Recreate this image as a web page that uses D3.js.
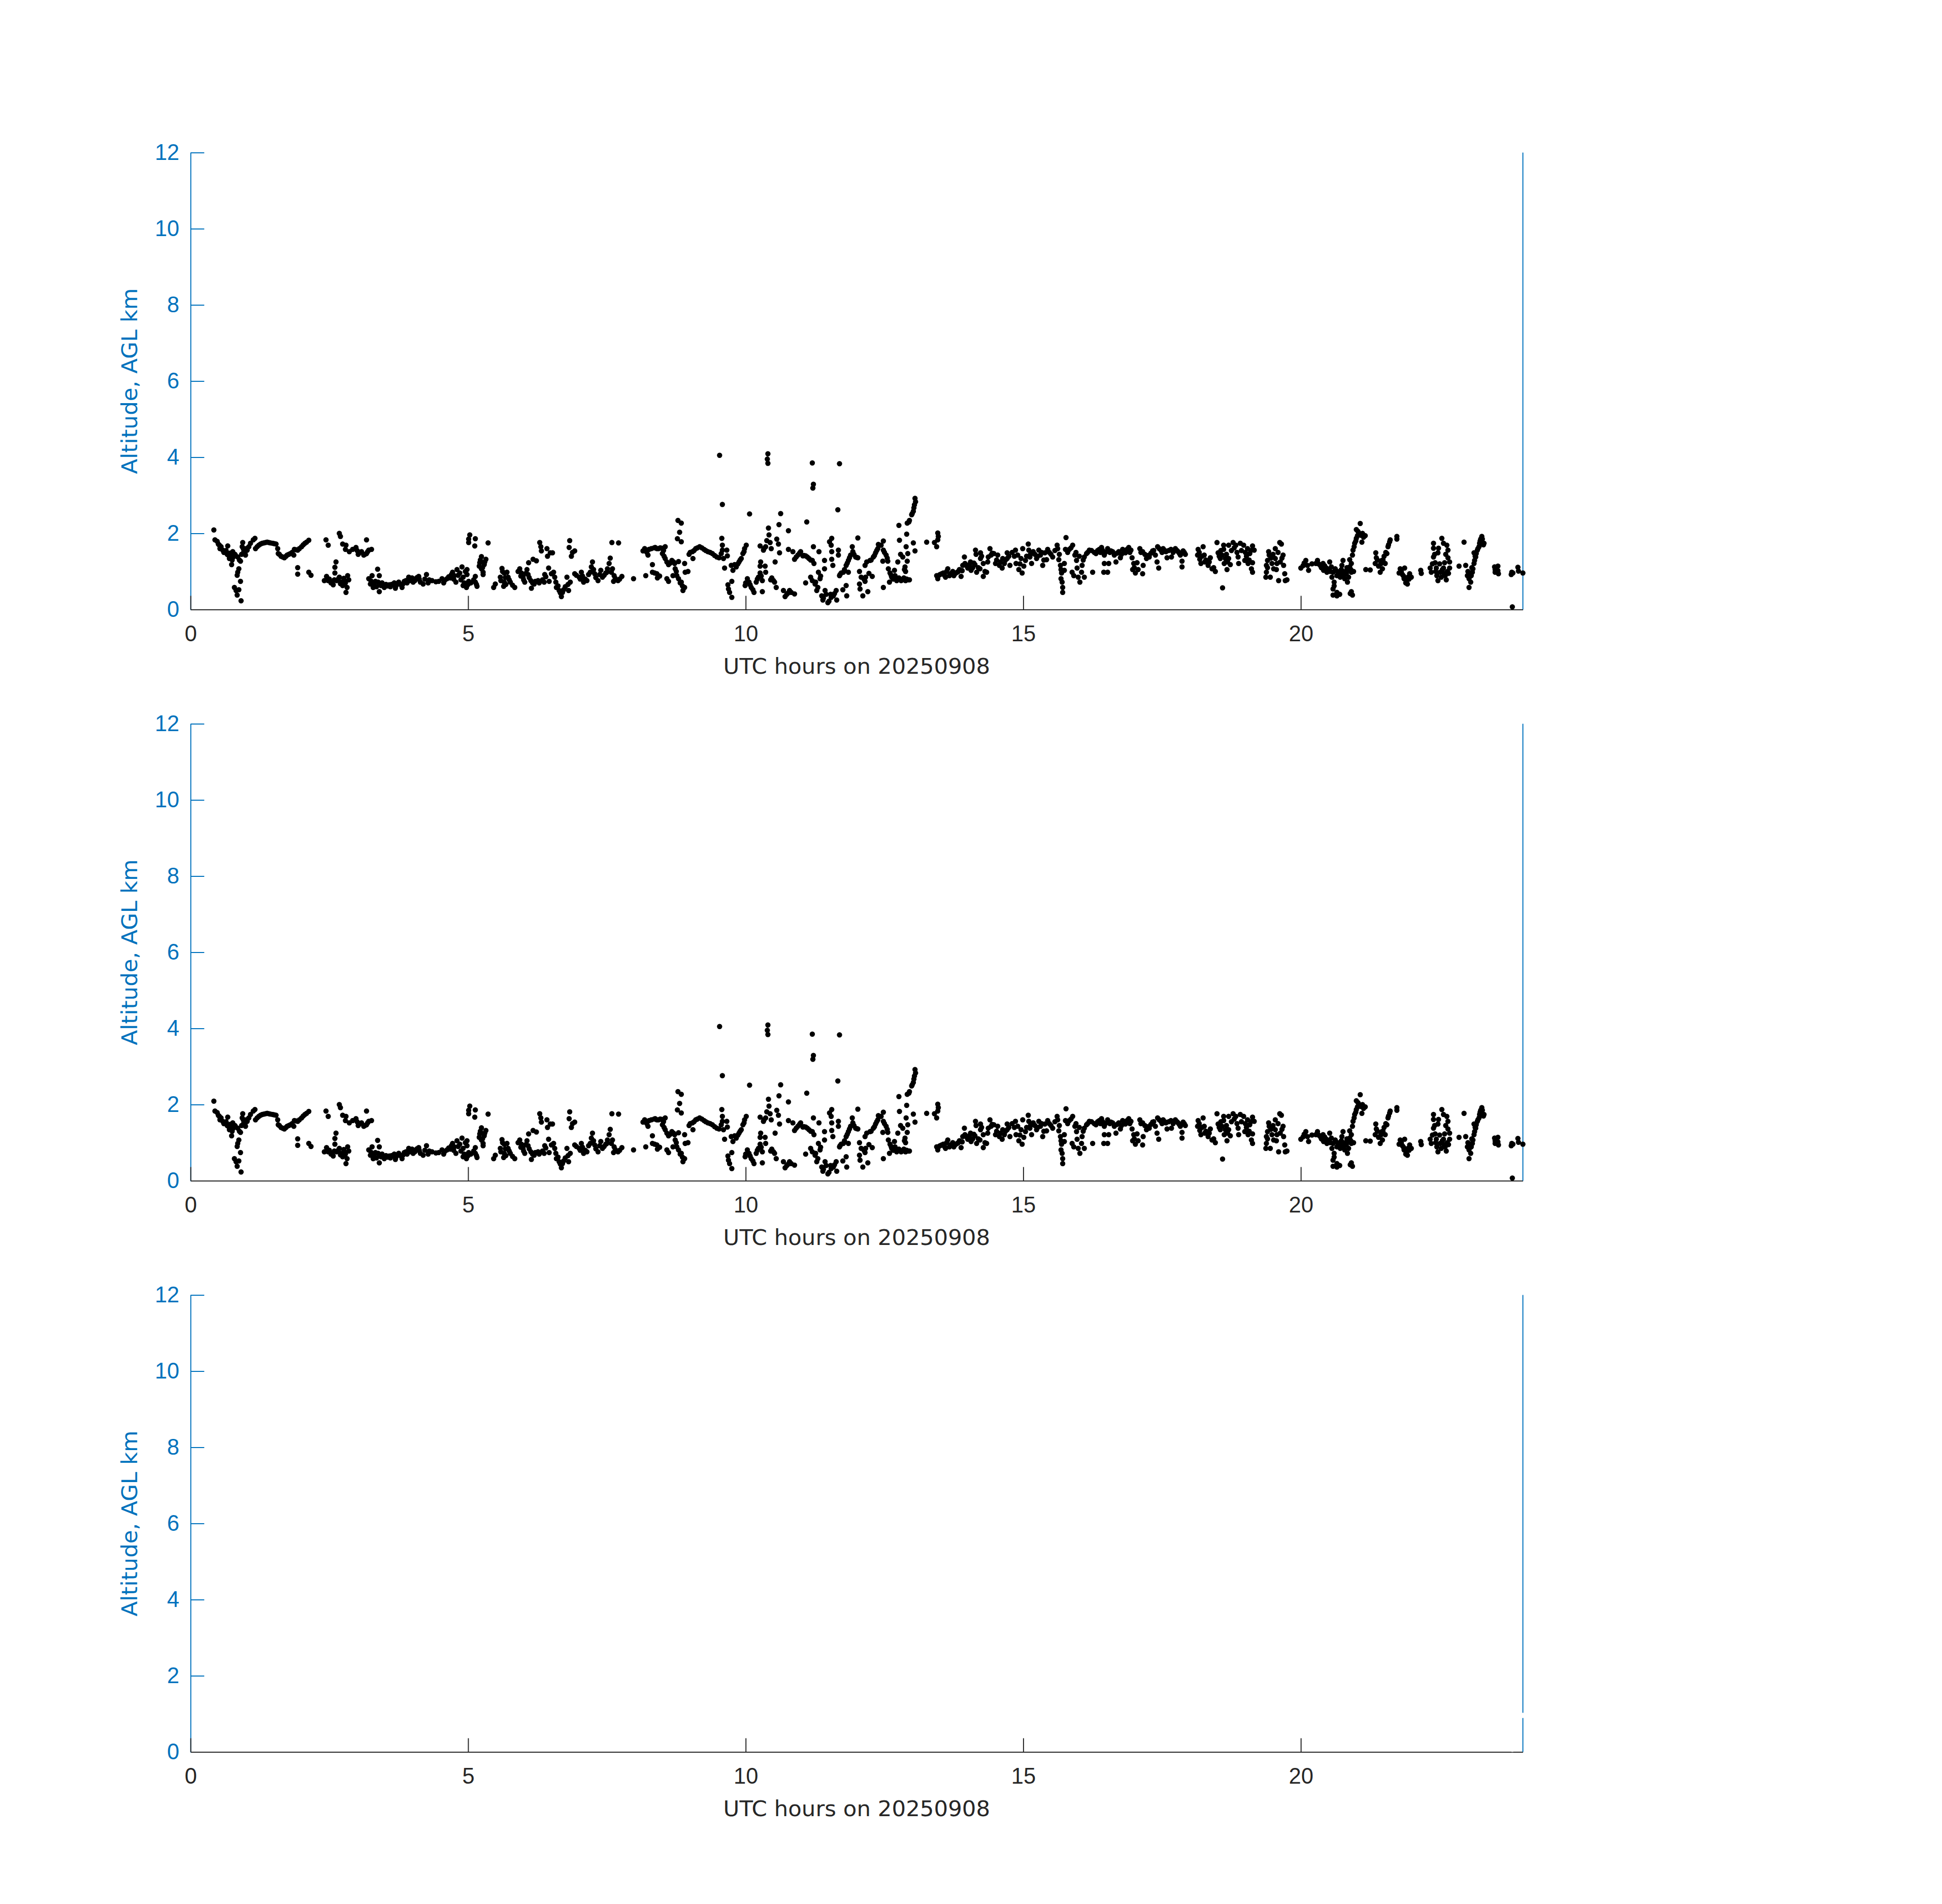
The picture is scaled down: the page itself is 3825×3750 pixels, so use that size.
<!DOCTYPE html>
<html>
<head>
<meta charset="utf-8">
<script src="https://cdn.jsdelivr.net/npm/d3@7"></script>
<style>
  body { margin: 0; background: #fff; }
</style>
</head>
<body>
<div id="chart"></div>
<script>
// axis ticks / labels
const xTickVals = [0, 5, 10, 15, 20];
const yTickVals = [0, 2, 4, 6, 8, 10, 12];
const xLabel = "UTC hours on 20250908";
const yLabel = "Altitude, AGL km";

// cloud base points, [UTC hour, altitude km]
const seg00 = [[0.42,2.09],[0.44,1.83],[0.48,1.79],[0.50,1.72],[0.52,1.69],[0.53,1.60],[0.55,1.65],[0.58,1.56],[0.60,1.50],[0.62,1.52],[0.64,1.55],[0.66,1.45],[0.67,1.67],[0.68,1.43],[0.70,1.34],[0.71,1.48],[0.72,1.40],[0.73,1.47],[0.75,1.30],[0.76,1.52],[0.77,1.38],[0.74,1.18],[0.80,1.45],[0.81,1.42],[0.85,1.38],[0.88,1.30],[0.90,1.27],[0.92,1.45],[0.94,1.76],[0.93,1.65],[0.95,1.60],[0.96,1.52],[0.98,1.48],[0.99,1.43],[1.00,1.60],[1.02,1.56],[1.05,1.65],[1.08,1.74],[1.13,1.83],[1.16,1.87],
  [0.87,1.07],[0.85,0.98],[0.84,0.90],[0.90,0.74],[0.79,0.58],[0.82,0.50],[0.87,0.52],[0.84,0.38],[0.91,0.23],
  [1.17,1.60],[1.20,1.65],[1.23,1.69],[1.26,1.72],[1.29,1.74],[1.32,1.75],[1.35,1.76],[1.38,1.77],[1.41,1.76],[1.44,1.75],[1.48,1.74],[1.51,1.73],[1.54,1.72],[1.57,1.60],[1.58,1.47],[1.60,1.45],[1.63,1.40],[1.66,1.38],[1.69,1.36],[1.72,1.40],[1.74,1.43],[1.77,1.45],[1.80,1.47],[1.83,1.50],[1.86,1.43],[1.87,1.58],[1.90,1.57],[1.93,1.56],[1.96,1.60],[2.00,1.65],[2.03,1.70],[2.06,1.74],[2.09,1.77],[2.13,1.82],
  [1.93,1.10],[1.93,0.93],[2.13,0.98],[2.17,0.90],
  [2.44,1.83],[2.48,1.69],[2.68,2.00],[2.70,1.92],[2.74,1.72],[2.80,1.69],[2.79,1.58],[2.86,1.52],[2.92,1.58],[2.98,1.63],[3.00,1.55],[3.02,1.45],[3.05,1.50],[3.08,1.52],[3.12,1.43],[3.14,1.45],[3.17,1.47],[3.19,1.52],[3.21,1.56],[3.26,1.58],[3.17,1.83],
  [2.62,1.25],[2.60,1.11],[2.60,0.96],[2.45,0.87],[2.41,0.76],[2.48,0.76],[2.50,0.80],[2.53,0.70],[2.55,0.72],[2.57,0.65],[2.59,0.78],[2.63,0.76],[2.66,0.80],[2.68,0.85],[2.70,0.68],[2.71,0.72],[2.74,0.63],[2.76,0.82],[2.77,0.76],[2.79,0.70],[2.83,0.89],[2.85,0.78],[2.82,0.58],[2.80,0.45],
  [3.21,0.81],[3.25,0.75],[3.27,0.89],[3.24,0.67],[3.29,0.58],[3.30,0.65],[3.33,0.74],[3.35,0.60],[3.37,1.06],[3.40,0.89],[3.38,0.72],[3.40,0.47],[3.42,0.68],[3.43,0.63],[3.45,0.70],[3.47,0.62],[3.49,0.58],[3.52,0.66],[3.55,0.62],[3.58,0.65],[3.60,0.60],[3.62,0.66],[3.65,0.66],[3.67,0.70],[3.69,0.56],[3.70,0.62],[3.72,0.68],[3.75,0.72],[3.78,0.66],[3.81,0.58],[3.83,0.68],[3.85,0.74],[3.88,0.76],[3.90,0.70],[3.93,0.85],[3.95,0.76],[3.96,0.80],[3.99,0.83],[4.01,0.72],[4.03,0.80],[4.04,0.76],[4.07,0.80],[4.08,0.84],[4.11,0.87],[4.12,0.80],[4.14,0.72]];

const seg04 = [[4.19,0.67],[4.22,0.80],[4.25,0.92],[4.30,0.78],[4.28,0.70],[4.35,0.76],[4.42,0.73],[4.47,0.74],[4.53,0.81],[4.56,0.70],[4.58,0.77],[4.62,0.81],[4.65,0.86],[4.68,0.83],[4.70,0.92],[4.72,0.98],[4.74,0.80],[4.75,0.89],[4.78,0.72],[4.80,1.05],[4.82,0.90],[4.85,0.96],[4.87,0.78],[4.89,1.12],[4.91,0.85],[4.91,0.63],[4.93,0.70],[4.95,1.00],[4.97,0.58],[4.98,1.05],[4.98,0.92],[5.00,0.66],[5.01,0.74],[5.03,1.96],[5.01,1.85],[5.01,1.76],[5.05,0.70],[5.10,0.78],[5.13,1.86],[5.12,1.67],[5.13,0.87],[5.13,0.72],[5.15,0.66],[5.16,0.61],[5.36,1.75],
  [5.24,1.39],[5.22,1.30],[5.21,1.23],[5.20,1.14],[5.24,1.07],[5.26,1.10],[5.29,1.18],[5.30,1.25],[5.32,1.32],[5.27,0.98],[5.27,0.92],
  [5.46,0.58],[5.49,0.67],[5.58,0.85],[5.61,1.08],[5.62,1.00],[5.65,0.96],[5.67,0.84],[5.70,0.98],[5.59,0.76],[5.65,0.72],[5.64,0.61],[5.68,0.66],[5.72,0.85],[5.74,0.78],[5.76,0.72],[5.80,0.64],[5.84,0.58],[5.90,1.00],[5.93,1.07],[5.95,0.88],[5.96,0.96],[5.99,0.85],[6.00,0.78],[6.02,0.72],[6.04,0.95],[6.06,1.05],[6.08,0.92],[6.09,1.23],[6.10,0.84],[6.13,0.76],[6.14,0.56],[6.16,0.70],[6.17,1.32],[6.23,1.28],[6.19,0.67],[6.21,0.74],[6.26,0.76],[6.28,0.70],[6.29,1.76],[6.31,1.65],[6.32,1.54],[6.34,0.78],[6.37,0.72],[6.38,0.92],[6.40,0.86],[6.42,1.60],[6.43,1.40],[6.45,1.09],[6.48,1.49],[6.50,0.94],[6.52,1.49],[6.46,0.74],[6.54,0.98],[6.56,0.85],[6.58,0.72],[6.59,0.58],[6.62,0.62],[6.64,0.50],[6.66,0.44],[6.68,0.34],[6.70,0.45],[6.72,0.52],[6.75,0.60],[6.78,0.85],[6.80,0.66],[6.81,0.50],[6.84,0.72],[6.83,1.81],[6.82,1.63],[6.86,1.40],[6.88,1.50],[6.92,1.54],[6.92,0.94],[6.95,0.90],[7.00,0.85],[7.02,0.80],[7.04,0.98],[7.06,0.88],[7.08,0.72],[7.11,0.80],[7.14,0.76],[7.17,0.92],[7.20,0.98],[7.22,1.12],[7.24,1.25],[7.26,1.05],[7.28,0.94],[7.30,0.84],[7.34,0.76],[7.37,0.92],[7.39,1.03],[7.42,0.85],[7.45,0.90],[7.48,0.96],[7.50,0.98],[7.51,1.07],[7.54,1.21],[7.56,1.35],[7.58,0.98],[7.59,1.76],[7.71,1.75],[7.60,1.07],[7.63,0.89],[7.62,0.74],[7.65,0.82],[7.70,0.76],[7.73,0.80],[7.77,0.87],[7.98,0.81],[8.20,0.89],[8.15,1.54],[8.18,1.60],[8.22,1.50],[8.23,1.56],[8.24,1.43],[8.26,1.58]];

const seg08 = [[8.30,1.60],[8.35,1.62],[8.37,1.63],[8.40,1.60],[8.43,1.60],[8.46,1.62],[8.49,1.61],[8.55,1.65],[8.50,1.47],[8.52,1.55],[8.53,1.40],[8.55,1.34],[8.58,1.25],[8.61,1.18],[8.64,1.22],[8.67,1.29],[8.70,1.25],[8.72,1.21],[8.73,1.07],[8.75,1.00],[8.76,0.89],[8.79,0.81],[8.82,0.70],[8.84,0.72],[8.86,0.62],[8.87,0.50],[8.90,0.58],[8.32,1.18],[8.32,0.98],[8.36,0.96],[8.40,0.94],[8.41,0.83],[8.45,0.88],[8.58,0.81],[8.61,0.74],[8.69,0.89],[8.79,1.26],[8.90,1.21],[8.91,0.98],[8.96,1.00],[8.78,2.34],[8.84,2.27],[8.81,2.03],[8.77,1.86],[8.84,1.78],
  [8.98,1.45],[9.00,1.50],[9.04,1.52],[9.05,1.34],[9.07,1.55],[9.10,1.60],[9.13,1.62],[9.17,1.65],[9.21,1.62],[9.25,1.58],[9.28,1.55],[9.32,1.52],[9.36,1.50],[9.40,1.47],[9.44,1.42],[9.48,1.38],[9.52,1.36],[9.56,1.47],[9.57,1.87],[9.58,1.69],[9.58,1.56],[9.60,1.34],[9.62,1.09],[9.66,1.56],[9.67,1.41],[9.53,4.05],[9.58,2.76],
  [9.68,0.65],[9.69,0.54],[9.71,0.45],[9.75,0.32],[9.75,0.74],[9.74,1.16],[9.77,1.03],[9.80,1.18],[9.83,1.12],[9.86,1.20],[9.88,1.25],[9.90,1.30],[9.92,1.34],[9.95,1.47],[9.97,1.52],[9.98,1.60],[10.01,1.69],[9.99,0.63],[10.00,0.70],[10.03,0.81],[10.06,0.72],[10.08,0.65],[10.10,0.58],[10.13,0.52],[10.15,0.45],[10.19,0.72],[10.21,0.80],[10.23,0.85],[10.26,0.96],[10.28,0.88],[10.30,0.76],[10.30,0.47],[10.07,2.51],[10.26,1.67],[10.32,1.56],[10.33,1.60],[10.36,1.65],[10.38,1.81],[10.41,2.14],[10.42,1.96],[10.46,1.60],[10.27,1.25],[10.26,1.14],[10.35,1.14],[10.36,0.98],[10.40,4.09],[10.39,3.95],[10.40,3.84],[10.44,1.76],[10.45,0.78],[10.47,0.83],[10.50,0.76],[10.52,0.72],[10.55,0.58],[10.53,1.25],[10.56,1.85],[10.59,1.72],[10.61,1.49],[10.60,2.23],[10.63,2.52],
  [10.68,0.50],[10.71,0.34],[10.74,0.40],[10.76,0.43],[10.79,0.50],[10.82,0.45],[10.88,0.41],[10.77,2.07],[10.77,1.58],[10.85,1.52],[10.88,1.32],[10.91,1.38],[10.94,1.43],[10.97,1.48],[10.99,1.52],[11.03,1.41],[11.05,1.42],[11.08,1.41],[11.11,1.38],[11.14,1.34],[11.17,1.30],[11.20,1.29],[11.23,1.21],[11.10,2.30],[11.20,3.85],[11.22,3.29],[11.21,3.19],[11.22,1.65],[11.08,0.70],[11.17,0.85],[11.20,0.76],[11.25,0.67],[11.26,0.72],[11.28,0.50],[11.30,0.58],[11.31,0.98],[11.32,1.52],[11.34,0.81],[11.35,0.88],[11.37,0.36],[11.39,0.25],[11.40,0.30],[11.42,1.29],[11.42,1.07],[11.43,0.50],[11.45,0.40],[11.48,0.18],[11.50,0.22],[11.51,1.78],[11.53,0.40],[11.54,1.69],[11.55,1.87],[11.55,1.52],[11.55,1.32],[11.57,1.16],[11.54,0.32],[11.58,0.36],[11.60,0.42],[11.63,0.50],[11.64,0.25],[11.66,2.62],[11.69,3.83],[11.67,1.56],[11.67,1.43],[11.69,0.89],[11.70,0.92],[11.72,0.96],[11.76,0.98],[11.78,1.05],[11.81,1.16],[11.83,1.22],[11.85,1.29],[11.85,0.98],[11.87,1.36],[11.89,1.43],[11.92,1.65],[11.93,1.52],[11.95,1.45],[11.98,1.38],[12.00,1.37],[12.02,1.36],[12.02,1.88],[11.75,0.52],[11.81,0.63],[11.82,0.36],[12.05,1.00],[12.08,0.85],[12.05,0.67],[12.06,0.54],[12.11,0.36],[12.13,0.80],[12.16,0.85],[12.15,0.74],[12.20,0.47],[12.22,0.95],[12.28,0.87],[12.15,1.16],[12.18,1.25],[12.24,1.29],[12.26,1.30],[12.30,1.38],[12.32,1.42],[12.34,1.49],[12.36,1.55],[12.38,1.60],[12.39,1.71]];

const seg12 = [[12.44,1.69],[12.48,1.80],[12.48,1.56],[12.50,1.50],[12.53,1.43],[12.55,1.35],[12.56,1.27],[12.47,1.27],[12.57,1.07],[12.60,0.96],[12.62,0.90],[12.63,0.85],[12.66,0.80],[12.59,0.72],[12.48,0.58],[12.68,1.03],[12.69,0.89],[12.70,0.82],[12.72,0.76],[12.76,0.83],[12.78,0.80],[12.80,0.76],[12.82,0.78],[12.85,0.83],[12.88,0.76],[12.90,0.80],[12.93,0.78],[12.95,0.78],[12.74,1.25],[12.79,1.45],[12.83,1.38],[12.86,1.05],[12.88,1.00],[12.87,1.12],[12.91,1.27],[12.89,1.65],[12.92,1.47],[12.77,1.82],[12.90,1.98],[12.76,2.21],[12.91,2.27],[12.94,2.30],[12.95,2.34],[12.99,2.49],[13.00,2.52],[13.02,2.58],[13.03,2.67],[13.04,2.75],[13.06,2.83],[13.05,2.92],[13.02,1.75],[13.05,1.54],[13.26,1.77],[13.40,1.76],[13.44,1.65],[13.46,1.83],[13.47,1.92],[13.46,2.01],
  [13.44,0.89],[13.46,0.81],[13.48,0.90],[13.50,0.92],[13.53,0.94],[13.56,0.96],[13.58,0.90],[13.60,0.85],[13.62,1.00],[13.64,1.07],[13.67,0.89],[13.70,0.95],[13.73,1.00],[13.75,0.89],[13.78,0.95],[13.81,0.98],[13.83,1.00],[13.85,1.05],[13.88,0.87],[13.90,1.02],[13.91,1.16],[13.94,1.38],[13.95,1.21],[13.98,1.15],[14.00,1.09],[14.03,1.18],[14.05,1.25],[14.06,1.03],[14.09,1.10],[14.11,1.22],[14.13,1.18],[14.14,1.56],[14.15,1.45],[14.16,0.98],[14.19,1.10],[14.22,1.07],[14.23,1.49],[14.23,1.34],[14.25,1.40],[14.28,1.21],[14.28,0.87],[14.31,1.00],[14.34,0.98],[14.36,1.25],[14.37,1.38],[14.40,1.60],[14.42,1.43],[14.44,1.48],[14.47,1.47],[14.50,1.21],[14.52,1.30],[14.54,1.43],[14.57,1.16],[14.59,1.25],[14.62,1.09],[14.63,1.34],[14.66,1.21],[14.68,1.30],[14.71,1.49],[14.71,1.34],[14.74,1.40],[14.76,1.16],[14.80,1.50],[14.84,1.40],[14.86,1.56],[14.87,1.21],[14.90,1.43],[14.92,1.05],[14.94,1.20],[14.96,1.34],[14.98,0.96],[14.99,1.60],[15.01,1.14],[15.04,1.29],[15.06,1.40],[15.09,1.72],[15.10,1.56],[15.12,1.38],[15.13,1.45],[15.15,1.21],[15.18,1.52],[15.21,1.45],[15.24,1.34],[15.26,1.40],[15.28,1.56],[15.31,1.43],[15.33,1.50],[15.35,1.16],[15.37,1.30],[15.39,1.49],[15.44,1.58],[15.42,1.31],[15.47,1.50],[15.50,1.45],[15.53,1.38],[15.57,1.55],[15.61,1.69],[15.62,1.60],[15.65,1.45],[15.64,1.31],[15.67,1.16],[15.68,1.05],[15.69,0.96],[15.68,0.81],[15.70,0.72],[15.71,0.58],[15.71,0.45],[15.74,1.21],[15.77,1.89],[15.76,1.58],[15.74,1.03],[15.80,1.50],[15.83,1.58],[15.86,1.62],[15.89,1.69],[15.93,1.43],[15.95,1.50],[15.96,1.29],[15.97,1.09],[15.88,0.98],[15.91,0.89],[15.99,0.85],[16.01,1.40],[16.02,0.72],[16.05,0.98],[16.06,1.16],[16.08,1.30],[16.10,0.85],[16.10,1.38],[16.14,1.47],[16.16,1.50],[16.19,1.56],[16.23,1.55],[16.25,0.98],[16.28,1.50],[16.31,1.47],[16.34,1.55],[16.37,1.58],[16.39,1.50],[16.41,1.63],[16.43,1.55],[16.46,1.43],[16.46,1.21],[16.45,0.98],[16.48,1.50]];

const seg16 = [[16.52,1.60],[16.54,1.21],[16.52,0.98],[16.56,1.50],[16.58,1.54],[16.61,1.52],[16.64,1.43],[16.67,1.25],[16.69,1.48],[16.72,1.52],[16.75,1.36],[16.77,1.45],[16.79,1.58],[16.82,1.55],[16.84,1.49],[16.87,1.58],[16.90,1.63],[16.92,1.50],[16.94,1.56],[16.96,1.36],[16.99,1.21],[16.97,1.05],[17.00,1.10],[17.02,0.96],[17.05,1.23],[17.07,1.05],[17.10,1.60],[17.12,1.50],[17.15,1.52],[17.16,1.16],[17.15,0.94],[17.19,1.45],[17.22,1.34],[17.25,1.42],[17.27,1.38],[17.30,1.48],[17.33,1.54],[17.35,1.55],[17.38,1.43],[17.41,1.25],[17.44,1.09],[17.42,1.65],[17.45,1.60],[17.48,1.56],[17.50,1.50],[17.52,1.60],[17.55,1.55],[17.57,1.52],[17.59,1.36],[17.62,1.55],[17.66,1.58],[17.67,1.38],[17.70,1.50],[17.74,1.60],[17.77,1.55],[17.79,1.52],[17.81,1.48],[17.83,1.43],[17.86,1.27],[17.88,1.54],[17.86,1.12],[17.90,1.50],[17.92,1.45],[18.15,1.58],[18.14,1.43],[18.17,1.50],[18.18,1.32],[18.22,1.40],[18.24,1.65],[18.26,1.43],[18.20,1.21],[18.27,1.25],[18.29,1.30],[18.33,1.16],[18.35,1.25],[18.37,1.36],[18.40,1.07],[18.43,1.10],[18.46,1.00],[18.49,1.76],[18.51,1.49],[18.53,1.40],[18.55,1.34],[18.56,1.55],[18.58,1.43],[18.61,1.69],[18.61,1.58],[18.64,1.34],[18.62,1.21],[18.66,1.45],[18.67,1.05],[18.68,1.25],[18.70,1.69],[18.70,1.34],[18.73,1.18],[18.59,0.57],[18.75,1.55],[18.78,1.76],[18.80,1.62],[18.83,1.69],[18.85,1.50],[18.87,1.38],[18.88,1.21],[18.91,1.74],[18.93,1.55],[18.97,1.69],[18.99,1.29],[19.00,1.50],[19.02,1.40],[19.04,1.60],[19.05,1.21],[19.07,1.30],[19.08,1.47],[19.10,1.55],[19.11,1.07],[19.13,0.98],[19.13,1.67],[19.16,1.56],[19.13,1.23],
  [19.37,0.85],[19.38,0.98],[19.38,1.16],[19.40,1.29],[19.40,1.10],[19.42,1.52],[19.43,1.43],[19.45,0.85],[19.46,1.35],[19.48,1.21],[19.50,1.45],[19.51,1.07],[19.54,1.60],[19.54,1.34],[19.56,1.05],[19.57,1.21],[19.59,1.50],[19.60,0.76],[19.62,1.76],[19.65,1.72],[19.63,1.25],[19.66,1.35],[19.68,1.43],[19.69,1.16],[19.71,0.94],[19.72,0.76],[19.75,0.78],
  [20.00,1.09],[20.04,1.15],[20.06,1.22],[20.09,1.29],[20.12,1.16],[20.14,1.03],[20.20,1.20],[20.27,1.21],[20.30,1.29],[20.32,1.20],[20.35,1.16],[20.37,1.10],[20.40,1.21],[20.41,1.03],[20.43,1.15],[20.46,1.09],[20.47,0.98],[20.49,1.05],[20.52,1.25],[20.53,1.00],[20.55,1.12],[20.56,0.85],[20.58,0.98],[20.60,0.72],[20.60,0.62],[20.58,0.54],[20.58,0.38]];

const seg20 = [[20.62,1.07],[20.65,0.89],[20.65,0.45],[20.65,0.36],[20.66,1.00],[20.68,0.98],[20.70,0.92],[20.70,0.40],[20.71,0.85],[20.73,1.05],[20.74,1.16],[20.75,0.95],[20.76,1.29],[20.77,0.89],[20.79,0.81],[20.80,1.00],[20.82,0.94],[20.83,1.10],[20.84,0.72],[20.85,1.03],[20.86,0.85],[20.88,1.12],[20.88,1.31],[20.89,0.42],[20.90,1.05],[20.91,1.21],[20.91,0.98],[20.91,0.47],[20.93,0.38],[20.93,1.43],[20.94,1.56],[20.95,1.00],[20.96,1.65],[20.97,1.74],[20.99,1.80],[21.00,1.87],[21.02,1.94],[21.03,2.05],[21.05,2.00],[21.00,2.10],[21.07,2.26],[21.08,1.95],[21.10,1.77],[21.11,2.00],[21.13,1.90],[21.16,1.94],[21.17,1.05],[21.25,1.04],[21.34,1.21],[21.35,1.49],[21.36,1.36],[21.38,1.30],[21.40,1.14],[21.43,0.98],[21.44,1.20],[21.47,1.07],[21.46,1.29],[21.48,1.30],[21.50,1.40],[21.52,1.21],[21.53,1.50],[21.55,1.47],[21.57,1.65],[21.58,1.70],[21.60,1.78],[21.61,1.83],[21.73,1.92],[21.73,1.85],
  [21.79,1.07],[21.77,0.96],[21.81,1.00],[21.83,0.92],[21.85,0.88],[21.87,1.09],[21.86,0.81],[21.89,0.70],[21.91,0.78],[21.92,0.67],[21.93,0.85],[21.95,0.80],[21.96,0.94],[21.99,0.85],[22.16,1.03],[22.17,0.95],
  [22.33,1.09],[22.35,0.98],[22.37,1.20],[22.39,1.74],[22.39,1.61],[22.39,1.38],[22.41,1.45],[22.42,1.23],[22.43,1.00],[22.44,1.09],[22.45,0.89],[22.47,0.76],[22.48,1.61],[22.47,1.49],[22.50,1.20],[22.51,0.98],[22.53,0.85],[22.54,1.87],[22.55,1.05],[22.57,1.74],[22.58,0.95],[22.59,1.23],[22.57,1.09],[22.60,0.89],[22.61,1.45],[22.62,0.78],[22.63,1.69],[22.64,1.00],[22.65,1.56],[22.65,1.36],[22.66,0.95],[22.68,1.25],[22.68,1.09],
  [22.85,1.14],[22.94,1.77],[22.97,1.16],[23.00,0.89],[23.01,1.00],[23.03,0.81],[23.03,0.58],[23.05,0.95],[23.06,0.72],[23.07,0.89],[23.08,1.10],[23.09,0.98],[23.10,1.07],[23.12,1.21],[23.13,1.29],[23.14,1.40],[23.15,1.38],[23.16,1.47],[23.18,1.56],[23.19,1.60],[23.21,1.65],[23.22,1.74],[23.23,1.80],[23.24,1.85],[23.26,1.92],[23.27,1.85],[23.29,1.70],[23.30,1.74],[23.12,1.49],
  [23.49,1.12],[23.50,0.98],[23.50,1.05],[23.55,1.14],[23.55,1.02],[23.56,0.94],[23.79,0.92],[23.80,0.98],[23.82,0.96],[23.81,0.07],[23.91,1.11],[23.92,1.01],[24.00,0.96]];

const cloudPts = [].concat(seg00, seg04, seg08, seg12, seg16, seg20);

// three stacked panels; the third one draws its markers in white
const panelFill = ["#000000", "#000000", "#ffffff"];

const W = 3825, H = 3750;
const axisBlue = "#0072bd", axisGray = "#262626";
const fontSize = 43.5;
const panelTops = [300.5, 1425.5, 2550.5];
const panelH = 900;
const left = 375.3, right = 2999.5;

const svg = d3.select("#chart").append("svg")
    .attr("width", W).attr("height", H)
    .style("font-family", "'DejaVu Sans', sans-serif");
svg.append("rect").attr("width", W).attr("height", H).attr("fill", "#fff");

const x = d3.scaleLinear().domain([0, 24]).range([left, right]);

panelTops.forEach(function(top, i) {
    const y = d3.scaleLinear().domain([0, 12]).range([top + panelH, top]);
    const g = svg.append("g");

    // left axis (blue)
    const ya = g.append("g")
        .attr("transform", `translate(${left},0)`)
        .call(d3.axisLeft(y).tickValues(yTickVals).tickSizeInner(-27).tickSizeOuter(0).tickPadding(22));
    ya.select(".domain").attr("stroke", axisBlue).attr("stroke-width", 2);
    ya.selectAll(".tick line").attr("stroke", axisBlue).attr("stroke-width", 2);
    ya.selectAll(".tick text").attr("fill", axisBlue).style("font-size", fontSize + "px");

    // bottom axis (gray)
    const xa = g.append("g")
        .attr("transform", `translate(0,${top + panelH})`)
        .call(d3.axisBottom(x).tickValues(xTickVals).tickSizeInner(-27).tickSizeOuter(0).tickPadding(32));
    xa.select(".domain").attr("stroke", axisGray).attr("stroke-width", 2);
    xa.selectAll(".tick line").attr("stroke", axisGray).attr("stroke-width", 2);
    xa.selectAll(".tick text").attr("fill", axisGray).style("font-size", fontSize + "px");

    // right axis line, no ticks
    g.append("line")
        .attr("x1", x(24)).attr("x2", x(24))
        .attr("y1", y(12)).attr("y2", y(0))
        .attr("stroke", axisBlue).attr("stroke-width", 2);

    g.append("text")
        .attr("x", (left + right) / 2)
        .attr("y", top + panelH + 126.5)
        .attr("text-anchor", "middle")
        .attr("fill", axisGray)
        .style("font-size", fontSize + "px")
        .text(xLabel);

    g.append("text")
        .attr("transform", `translate(270,${top + panelH / 2}) rotate(-90)`)
        .attr("text-anchor", "middle")
        .attr("fill", axisBlue)
        .style("font-size", fontSize + "px")
        .text(yLabel);

    g.append("g").selectAll("circle")
        .data(cloudPts)
        .join("circle")
        .attr("cx", d => x(d[0]))
        .attr("cy", d => y(d[1]))
        .attr("r", 5.2)
        .attr("fill", panelFill[i]);
});
</script>
</body>
</html>
